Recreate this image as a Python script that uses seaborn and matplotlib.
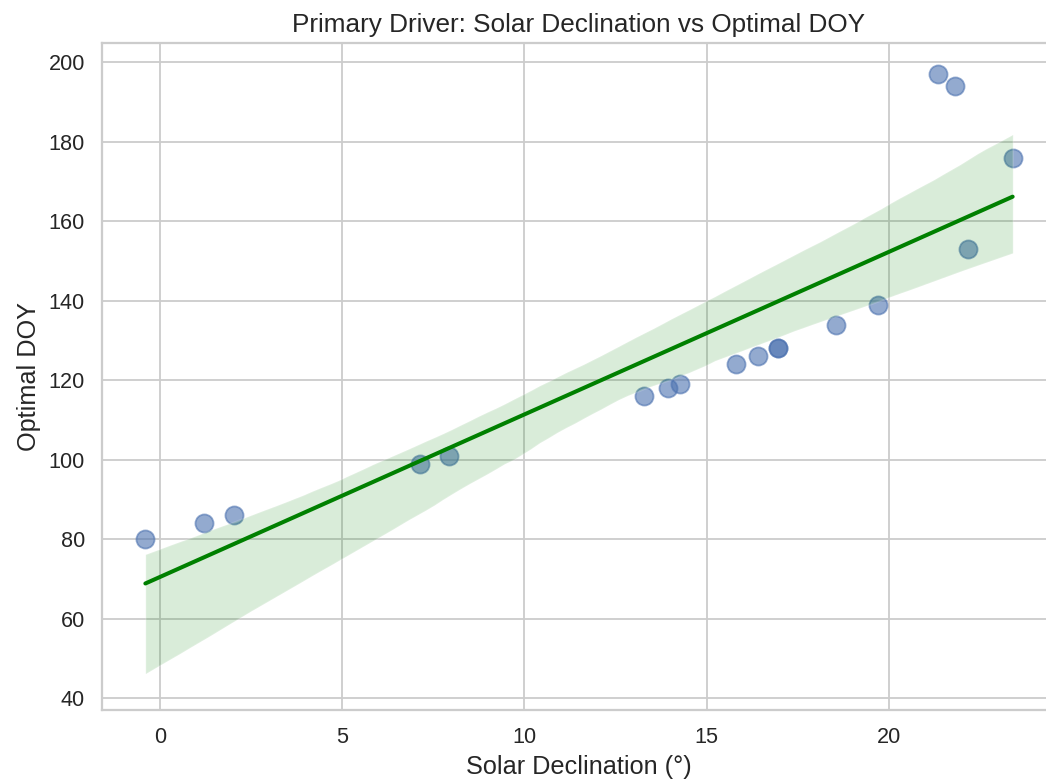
import pandas as pd
import seaborn as sns
from matplotlib import pyplot as plt

# solar declination (deg) and optimal day-of-year
declination = [-0.40, 1.21, 2.02, 7.15, 7.92, 13.29, 13.95, 14.27, 15.82,
               16.40, 16.97, 16.97, 18.55, 19.71, 21.35, 21.82, 22.17, 23.40]
optimal_doy = [80, 84, 86, 99, 101, 116, 118, 119, 124,
               126, 128, 128, 134, 139, 197, 194, 153, 176]

TITLE = "Primary Driver: Solar Declination vs Optimal DOY"
XLABEL = "Solar Declination (°)"
YLABEL = "Optimal DOY"

sns.set_theme(style="whitegrid")
plt.rcParams["font.family"] = ["Liberation Sans", "DejaVu Sans"]

df = pd.DataFrame({"declination": declination, "optimal_doy": optimal_doy})

DPI = 130
fig = plt.figure(figsize=(1046 / DPI, 780 / DPI), dpi=DPI)
ax = fig.add_axes([102 / 1046, 70 / 780, (1056 - 102) / 1046, (710 - 43) / 780])

sns.regplot(
    data=df,
    x="declination",
    y="optimal_doy",
    ax=ax,
    scatter_kws={"s": 100, "alpha": 0.6},
    line_kws={"color": "green"},
    seed=7,
)

ax.set_ylim(37.0, 204.9)
ax.set_title(TITLE, fontsize=14.5)
ax.set_xlabel(XLABEL, fontsize=14)
ax.set_ylabel(YLABEL, fontsize=14)
ax.tick_params(labelsize=12)

fig.savefig("out.png", dpi=DPI)
plt.close(fig)
